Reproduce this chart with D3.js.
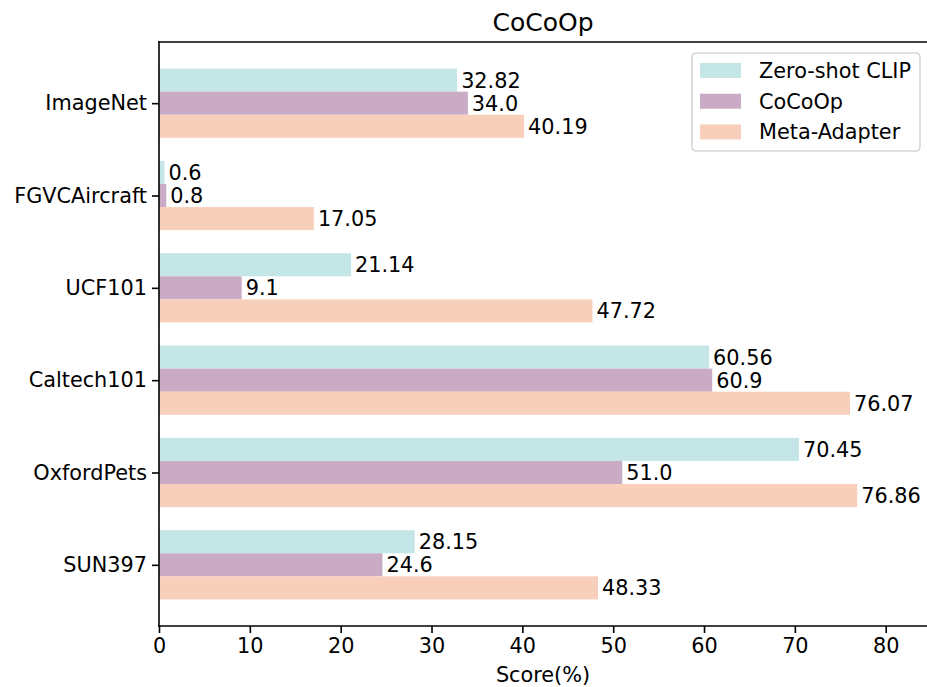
<!DOCTYPE html>
<html>
<head>
<meta charset="utf-8">
<script src="https://cdn.jsdelivr.net/npm/d3@7"></script>
<style>
  body { margin: 0; background: #fff; }
  text { font-family: "DejaVu Sans", sans-serif; fill: #000; }
</style>
</head>
<body>
<div id="chart"></div>
<script>
const datasets = ["ImageNet", "FGVCAircraft", "UCF101", "Caltech101", "OxfordPets", "SUN397"];
const seriesNames = ["Zero-shot CLIP", "CoCoOp", "Meta-Adapter"];
const zeroShot = [32.82, 0.6, 21.14, 60.56, 70.45, 28.15];
const cocoop = [34.0, 0.8, 9.1, 60.9, 51.0, 24.6];
const metaAdapter = [40.19, 17.05, 47.72, 76.07, 76.86, 48.33];
const xTicks = [0, 10, 20, 30, 40, 50, 60, 70, 80];
const colors = ["#c5e6e6", "#c9abc6", "#f8cfbb"];
const labelText = ["32.82", "0.6", "21.14", "60.56", "70.45", "28.15",
                   "34.0", "0.8", "9.1", "60.9", "51.0", "24.6",
                   "40.19", "17.05", "47.72", "76.07", "76.86", "48.33"];

const allSeries = [zeroShot, cocoop, metaAdapter];
const W = 927, H = 687;
const margin = { top: 42, right: 0, bottom: 61, left: 159 };
const width = W - margin.left - margin.right;
const height = H - margin.top - margin.bottom;
const barH = 0.25;
const fs = "20.8px";

const svg = d3.select("#chart").append("svg")
    .attr("width", W).attr("height", H);
const g = svg.append("g")
    .attr("transform", `translate(${margin.left},${margin.top})`);

const xMax = d3.max(metaAdapter) * 1.1;
const x = d3.scaleLinear().domain([0, xMax]).range([0, width]);
const y = d3.scaleLinear().domain([-0.6625, 5.6625]).range([0, height]);

// bars
allSeries.forEach((vals, s) => {
    const off = (s - 1) * barH;
    g.selectAll(".bar" + s).data(vals).enter().append("rect")
        .attr("x", x(0))
        .attr("y", (d, i) => y(i + off - barH / 2))
        .attr("width", d => x(d) - x(0))
        .attr("height", y(barH) - y(0))
        .attr("fill", colors[s]);
    g.selectAll(".lab" + s).data(vals).enter().append("text")
        .attr("x", d => x(d) + 4)
        .attr("y", (d, i) => y(i + off))
        .attr("dy", "0.36em")
        .style("font-size", fs)
        .text((d, i) => labelText[s * 6 + i]);
});

// axes
const xAxis = d3.axisBottom(x).tickValues(xTicks).tickSize(7).tickPadding(5);
const gx = g.append("g").attr("transform", `translate(0,${height})`).call(xAxis);
const yAxis = d3.axisLeft(y).tickValues(d3.range(datasets.length))
    .tickFormat(i => datasets[i]).tickSize(7).tickPadding(5);
const gy = g.append("g").call(yAxis);
[gx, gy].forEach(a => {
    a.selectAll("text").style("font-size", fs).style("font-family", "DejaVu Sans");
    a.selectAll("line").attr("stroke", "#000").attr("stroke-width", 1.6);
    a.select(".domain").remove();
});

// spines (right one falls outside the picture)
const spines = [[0, 0, width, 0], [0, height, width, height], [0, 0, 0, height]];
g.selectAll(".spine").data(spines).enter().append("line")
    .attr("x1", d => d[0]).attr("y1", d => d[1])
    .attr("x2", d => d[2]).attr("y2", d => d[3])
    .attr("stroke", "#000").attr("stroke-width", 1.6)
    .attr("stroke-linecap", "square");

// title and axis label
svg.append("text")
    .attr("x", margin.left + width / 2).attr("y", 31)
    .attr("text-anchor", "middle").style("font-size", "25px")
    .text("CoCoOp");
svg.append("text")
    .attr("x", margin.left + width / 2).attr("y", 682)
    .attr("text-anchor", "middle").style("font-size", fs)
    .text("Score(%)");

// legend
const leg = svg.append("g").attr("transform", "translate(692,53)");
leg.append("rect")
    .attr("width", 228).attr("height", 98).attr("rx", 4)
    .attr("fill", "#fff").attr("fill-opacity", 0.8)
    .attr("stroke", "#d6d6d6").attr("stroke-width", 1.6);
seriesNames.forEach((name, s) => {
    leg.append("rect")
        .attr("x", 8).attr("y", 10 + s * 30.7)
        .attr("width", 41).attr("height", 15)
        .attr("fill", colors[s]);
    leg.append("text")
        .attr("x", 67).attr("y", 17.5 + s * 30.7)
        .attr("dy", "0.36em").style("font-size", fs)
        .text(name);
});
</script>
</body>
</html>
